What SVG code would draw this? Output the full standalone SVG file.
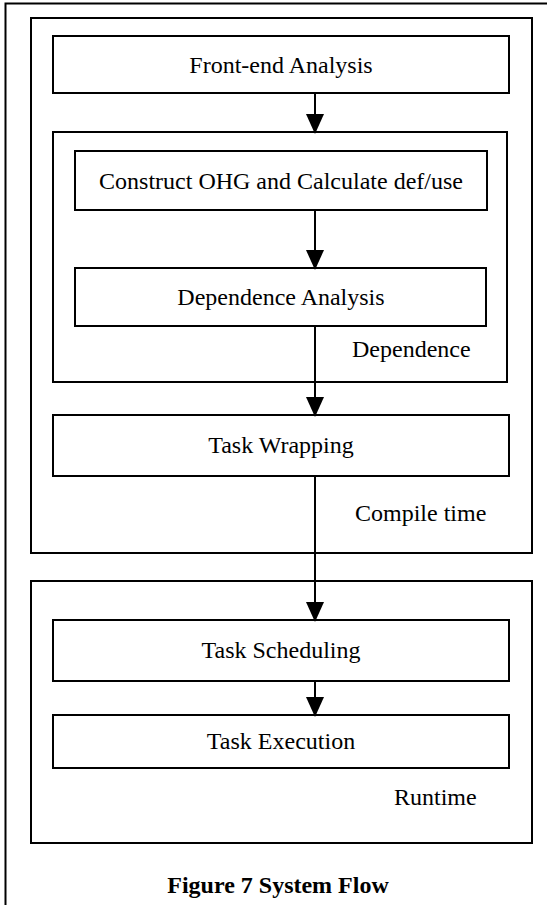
<svg xmlns="http://www.w3.org/2000/svg" width="547" height="905" viewBox="0 0 547 905">
<style>
.box{fill:none;stroke:#000;stroke-width:2}
.t{font-family:"Liberation Serif","Times New Roman",serif;font-size:24px;fill:#000}
.c{text-anchor:middle}
.cap{font-family:"Liberation Serif","Times New Roman",serif;font-size:24px;font-weight:bold;fill:#000;text-anchor:middle}
.ln{stroke:#000;stroke-width:2;fill:none}
</style>
<defs>
<marker id="ah" markerUnits="userSpaceOnUse" markerWidth="20" markerHeight="22" refX="18" refY="9" orient="auto" viewBox="0 0 20 18">
<path d="M0,0 L20,9 L0,18 Z" fill="#000"/>
</marker>
</defs>
<rect width="547" height="905" fill="#fff"/>
<g id="frame">
<path class="ln" d="M5.5,905 V3.5 H547"/>
</g>
<g id="compile-time">
<rect class="box" x="31" y="18" width="501" height="535"/>
<text class="t" x="355" y="521">Compile time</text>
</g>
<g id="dependence">
<rect class="box" x="53" y="132" width="454" height="250"/>
<text class="t" x="352" y="357">Dependence</text>
</g>
<g id="runtime">
<rect class="box" x="31" y="581" width="501" height="262"/>
<text class="t" x="394" y="805">Runtime</text>
</g>
<g id="front-end">
<rect class="box" x="53" y="36" width="456" height="57"/>
<text class="t c" x="281" y="73">Front-end Analysis</text>
</g>
<g id="construct">
<rect class="box" x="75" y="151" width="412" height="59"/>
<text class="t c" x="281" y="189">Construct OHG and Calculate def/use</text>
</g>
<g id="dep-analysis">
<rect class="box" x="75" y="268" width="411" height="58"/>
<text class="t c" x="281" y="305">Dependence Analysis</text>
</g>
<g id="task-wrapping">
<rect class="box" x="53" y="415" width="456" height="61"/>
<text class="t c" x="281" y="453">Task Wrapping</text>
</g>
<g id="task-scheduling">
<rect class="box" x="53" y="620" width="456" height="61"/>
<text class="t c" x="281" y="658">Task Scheduling</text>
</g>
<g id="task-execution">
<rect class="box" x="53" y="715" width="456" height="53"/>
<text class="t c" x="281" y="749">Task Execution</text>
</g>
<g id="connectors">
<line class="ln" x1="315" y1="93" x2="315" y2="132" marker-end="url(#ah)"/>
<line class="ln" x1="315" y1="210" x2="315" y2="268" marker-end="url(#ah)"/>
<line class="ln" x1="315" y1="326" x2="315" y2="415" marker-end="url(#ah)"/>
<line class="ln" x1="315" y1="476" x2="315" y2="620" marker-end="url(#ah)"/>
<line class="ln" x1="315" y1="681" x2="315" y2="715" marker-end="url(#ah)"/>
</g>
<text class="cap" x="278" y="893">Figure 7 System Flow</text>
</svg>
